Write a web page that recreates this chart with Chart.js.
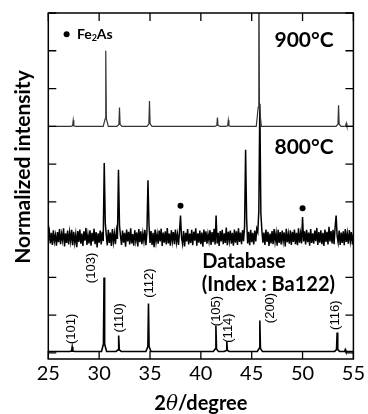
<!DOCTYPE html>
<html>
<head>
  <title>XRD patterns</title>
  <script src="https://cdn.jsdelivr.net/npm/chart.js"></script>
</head>
<body style="margin:0;background:#fff;">
  <canvas id="xrd" width="368" height="414"></canvas>

  <script>
    // 900C pattern: peak positions (2theta) and heights above its baseline
    const base900 = 6.0;
    const peaks900 = [27.45, 30.65, 32.0, 34.95, 41.63, 42.7, 45.7, 53.54, 54.3];
    const heights900 = [0.16, 2.0, 0.5, 0.67, 0.23, 0.16, 5.0, 0.56, 0.08];

    // 800C pattern, read on a 0.1 degree grid from 25 to 55 (noisy)
    const start800 = 25, step800 = 0.1;
    const trace800 = [
      3.05, 3.22, 2.90, 3.18, 2.86, 3.25, 2.95, 3.12, 2.84, 3.20,
      2.93, 3.28, 2.88, 3.15, 2.98, 3.30, 2.82, 3.17, 2.91, 3.24,
      2.87, 3.19, 2.96, 3.26, 2.85, 3.21, 2.92, 3.14, 2.80, 3.23,
      2.94, 3.27, 2.89, 3.16, 2.83, 3.22, 2.97, 3.31, 2.86, 3.13,
      2.90, 3.25, 2.84, 3.18, 2.95, 3.29, 2.88, 3.20, 2.79, 3.17,
      2.92, 3.24, 2.87, 3.21, 2.96, 5.03, 3.45, 3.12, 2.85, 3.26,
      2.91, 3.19, 2.83, 3.28, 2.94, 3.16, 2.88, 3.23, 3.02, 4.85,
      3.38, 3.10, 2.86, 3.24, 2.92, 3.18, 2.81, 3.27, 2.95, 3.21,
      2.87, 3.30, 2.90, 3.15, 2.84, 3.25, 2.97, 3.19, 2.82, 3.28,
      2.93, 3.22, 2.88, 3.17, 2.96, 3.26, 2.85, 3.20, 4.57, 3.40,
      2.91, 3.23, 2.86, 3.18, 2.80, 3.27, 2.94, 3.15, 2.89, 3.24,
      2.95, 3.29, 2.83, 3.19, 2.92, 3.22, 2.87, 3.31, 2.90, 3.16,
      2.84, 3.25, 2.96, 3.20, 2.88, 3.27, 2.93, 3.14, 2.86, 3.21,
      3.64, 3.05, 2.89, 3.23, 2.82, 3.18, 2.95, 3.28, 2.87, 3.16,
      2.91, 3.26, 2.85, 3.21, 2.97, 3.30, 2.84, 3.17, 2.92, 3.24,
      2.88, 3.19, 2.81, 3.27, 2.94, 3.22, 2.89, 3.15, 2.96, 3.25,
      2.86, 3.20, 2.93, 3.29, 2.87, 3.64, 2.90, 3.18, 2.83, 3.23,
      2.95, 3.26, 2.88, 3.17, 2.91, 3.32, 2.85, 3.21, 2.97, 3.24,
      2.89, 3.18, 2.84, 3.27, 2.92, 3.22, 2.86, 3.30, 2.94, 3.19,
      2.88, 3.25, 2.96, 3.35, 5.38, 3.55, 2.90, 3.21, 2.85, 3.26,
      2.93, 3.18, 2.87, 3.24, 2.95, 3.29, 3.20, 3.75, 6.60, 3.70,
      3.25, 2.92, 3.19, 2.86, 3.27, 2.94, 3.21, 2.83, 3.16, 2.90,
      3.23, 2.88, 3.28, 2.95, 3.17, 2.84, 3.26, 2.91, 3.20, 2.87,
      3.24, 2.96, 3.19, 2.82, 3.29, 2.93, 3.15, 2.89, 3.25, 2.86,
      3.21, 2.94, 3.27, 2.88, 3.18, 2.85, 3.30, 2.92, 3.16, 2.90,
      3.60, 2.95, 3.22, 2.87, 3.26, 2.93, 3.19, 2.84, 3.28, 2.91,
      3.17, 2.89, 3.24, 2.96, 3.31, 2.86, 3.20, 2.92, 3.25, 2.88,
      3.18, 2.83, 3.27, 2.94, 3.21, 2.87, 3.34, 2.95, 3.23, 2.90,
      3.26, 2.88, 3.32, 3.64, 3.10, 2.93, 3.24, 2.86, 3.19, 2.91,
      3.22, 2.85, 3.28, 2.94, 3.17, 2.89, 3.25, 2.96, 3.20, 2.87,
      3.15
    ];

    // Fe2As impurity markers in the 800C pattern
    const fe2asX = [38.0, 50.0];
    const fe2asY = [3.9, 3.83];

    // Database (Ba122) reflections
    const baseDb = 0.04;
    const hklLabels = ['(101)', '(103)', '(110)', '(112)', '(105)', '(114)', '(200)', '(116)'];
    const peaksDb = [27.35, 30.48, 31.92, 34.85, 41.48, 42.55, 45.8, 53.4, 54.2];
    const heightsDb = [0.12, 1.96, 0.42, 1.27, 0.68, 0.26, 0.82, 0.5, 0.05];

    const xTicks = [25, 30, 35, 40, 45, 50, 55];

    // line with narrow peaks on a flat baseline
    function peakTrace(base, pos, height) {
      const pts = [{ x: 25, y: base }];
      pos.forEach((p, i) => {
        const h = height[i];
        pts.push({ x: p - 0.25, y: base }, { x: p - 0.06, y: base + 0.1 * h },
                 { x: p, y: base + h },
                 { x: p + 0.06, y: base + 0.1 * h }, { x: p + 0.25, y: base });
      });
      pts.push({ x: 55, y: base });
      return pts;
    }

    const pts800 = trace800.map((v, i) => ({ x: start800 + i * step800, y: v }));
    const ptsFe = fe2asX.map((x, i) => ({ x, y: fe2asY[i] }));

    // text annotations, placed in data coordinates
    const notes = [
      { text: '900°C', x: 53.06, y: 8.28, right: true, font: 'bold 21px Lato' },
      { text: '800°C', x: 53.06, y: 5.44, right: true, font: 'bold 21px Lato' },
      { text: 'Database', x: 40.14, y: 2.42, font: 'bold 20px Lato' },
      { text: '(Index : Ba122)', x: 40.1, y: 1.8, font: 'bold 20px Lato' }
    ];
    const hklPos = [[27.32, 0.64], [29.28, 2.25], [32.0, 0.93], [34.95, 1.85],
                    [41.5, 1.11], [42.68, 0.66], [46.88, 1.19], [53.25, 1.0]];

    const framePlugin = {
      id: 'frame',
      afterDatasetsDraw(chart) {
        const { ctx, chartArea: a, scales: { x, y } } = chart;
        ctx.save();
        ctx.strokeStyle = '#000';
        ctx.lineWidth = 1.5;
        ctx.strokeRect(a.left, a.top, a.right - a.left, a.bottom - a.top);
        // inside ticks on all four sides
        ctx.lineWidth = 1.3;
        ctx.beginPath();
        x.ticks.forEach(t => {
          const px = x.getPixelForValue(t.value);
          ctx.moveTo(px, a.top); ctx.lineTo(px, a.top + 8);
          ctx.moveTo(px, a.bottom); ctx.lineTo(px, a.bottom - 8);
        });
        y.ticks.forEach(t => {
          const py = y.getPixelForValue(t.value);
          ctx.moveTo(a.left, py); ctx.lineTo(a.left + 8, py);
          ctx.moveTo(a.right, py); ctx.lineTo(a.right - 8, py);
        });
        ctx.stroke();

        ctx.fillStyle = '#000';
        ctx.textBaseline = 'middle';
        notes.forEach(n => {
          ctx.font = n.font;
          ctx.textAlign = n.right ? 'right' : 'left';
          ctx.fillText(n.text, x.getPixelForValue(n.x), y.getPixelForValue(n.y));
        });

        // Fe2As legend
        const lx = x.getPixelForValue(26.8), ly = y.getPixelForValue(8.44);
        ctx.beginPath();
        ctx.arc(lx, ly, 3, 0, Math.PI * 2);
        ctx.fill();
        ctx.textAlign = 'left';
        ctx.font = 'bold 14px Lato';
        let tx = x.getPixelForValue(27.81);
        ctx.fillText('Fe', tx, ly);
        tx += ctx.measureText('Fe').width;
        ctx.font = 'bold 9px Lato';
        ctx.fillText('2', tx, ly + 4);
        tx += ctx.measureText('2').width;
        ctx.font = 'bold 14px Lato';
        ctx.fillText('As', tx, ly);

        // hkl labels, rotated
        ctx.font = '13px "Liberation Sans"';
        ctx.textAlign = 'center';
        hklLabels.forEach((lab, i) => {
          ctx.save();
          ctx.translate(x.getPixelForValue(hklPos[i][0]), y.getPixelForValue(hklPos[i][1]));
          ctx.rotate(-Math.PI / 2);
          ctx.fillText(lab, 0, 0);
          ctx.restore();
        });

        // axis titles
        ctx.textBaseline = 'alphabetic';
        const parts = [['2', 'bold 20px Lato'], ['\u03B8', 'italic 20px "DejaVu Serif"'], ['/degree', 'bold 20px Lato']];
        let total = 0;
        parts.forEach(p => { ctx.font = p[1]; total += ctx.measureText(p[0]).width; });
        let sx = (a.left + a.right) / 2 - total / 2;
        ctx.textAlign = 'left';
        parts.forEach(p => {
          ctx.font = p[1];
          ctx.fillText(p[0], sx, 410);
          sx += ctx.measureText(p[0]).width;
        });

        ctx.save();
        ctx.translate(30, 167);
        ctx.rotate(-Math.PI / 2);
        ctx.font = 'bold 21px Lato';
        ctx.textAlign = 'center';
        ctx.fillText('Normalized intensity', 0, 0);
        ctx.restore();
        ctx.restore();
      }
    };

    new Chart(document.getElementById('xrd'), {
      type: 'line',
      data: {
        datasets: [
          { label: '900C', data: peakTrace(base900, peaks900, heights900), borderColor: '#333', borderWidth: 1.2, pointRadius: 0, tension: 0 },
          { label: '800C', data: pts800, borderColor: '#000', borderWidth: 1.5, pointRadius: 0, tension: 0 },
          { label: 'Database', data: peakTrace(baseDb, peaksDb, heightsDb), borderColor: '#000', borderWidth: 1.6, pointRadius: 0, tension: 0 },
          { label: 'Fe2As', data: ptsFe, showLine: false, pointRadius: 3, pointBackgroundColor: '#000', pointBorderWidth: 0 }
        ]
      },
      options: {
        responsive: false,
        animation: false,
        layout: { padding: { top: 13, right: 13, left: 0, bottom: 0 } },
        plugins: { legend: { display: false }, tooltip: { enabled: false } },
        scales: {
          x: {
            type: 'linear', min: 25, max: 55,
            afterBuildTicks: s => { s.ticks = xTicks.map(v => ({ value: v })); },
            ticks: { color: '#000', font: { family: 'Lato', size: 20 }, padding: 3 },
            grid: { display: false, drawTicks: false },
            border: { display: false },
            afterFit: s => { s.height = 55; }
          },
          y: {
            min: -0.16, max: 9,
            ticks: { display: false, stepSize: 1, includeBounds: false },
            grid: { display: false, drawTicks: false },
            border: { display: false },
            afterFit: s => { s.width = 48.3; }
          }
        }
      },
      plugins: [framePlugin]
    });
  </script>
</body>
</html>
